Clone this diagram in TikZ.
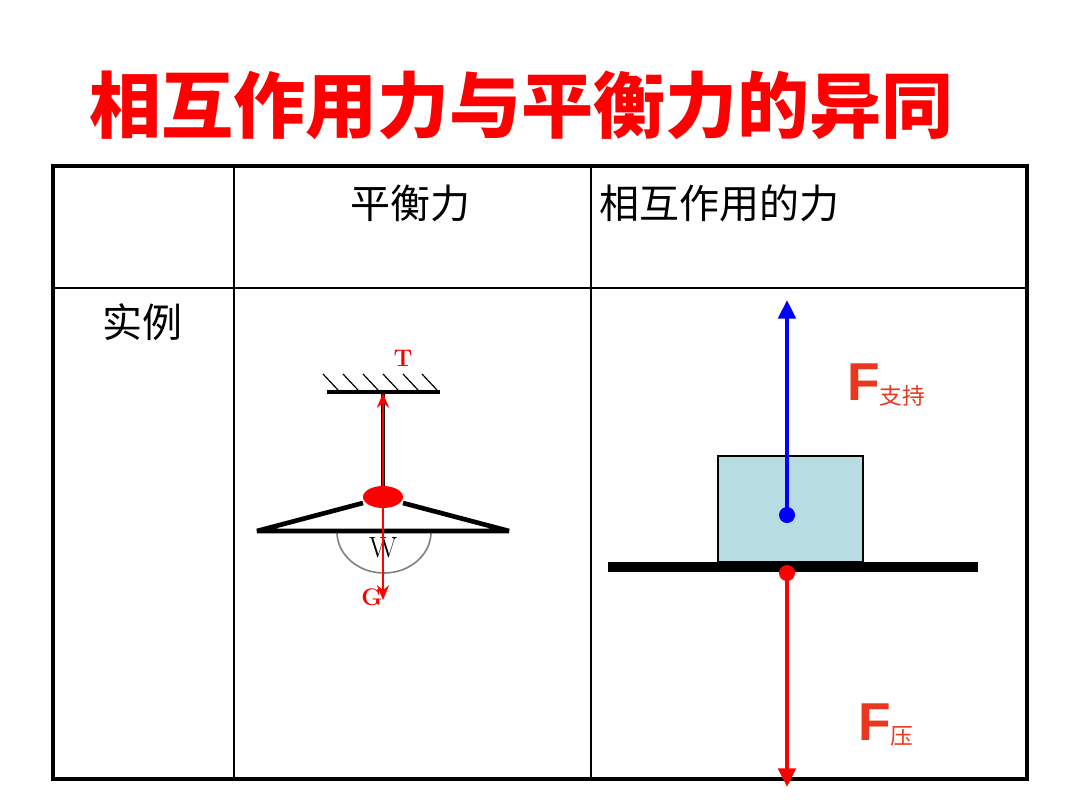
\documentclass[tikz,border=0pt]{standalone}
\usepackage{fontspec}
\newfontfamily\cjk{Noto Sans CJK SC}
\newfontfamily\sans{Liberation Sans}
\usetikzlibrary{arrows.meta,shapes.geometric}
\definecolor{fred}{HTML}{E8391E}
\tikzset{
  thin line/.style={line width=0.8pt},
  redarrow/.style={red, line width=3pt, -{Triangle[length=14pt,width=13pt]}},
  lamparrow/.style={red, line width=2.2pt, -{Stealth[length=11pt,width=9pt]}},
  hdr/.style={font=\cjk\fontsize{30}{33}\selectfont},
}
\begin{document}
\begin{tikzpicture}[x=0.75pt,y=-0.75pt]
\useasboundingbox (0,0) rectangle (1080,810);
\fill[white] (0,0) rectangle (1080,810);
% title
\node[red,font=\cjk\bfseries\fontsize{54}{58}\selectfont] (title) at (521,105) {相互作用力与平衡力的异同};
% table
\draw[thin line] (234,166) -- (234,779) (591,166) -- (591,779) (53,288) -- (1027,288);
\draw[line width=2.5pt] (53,166) rectangle (1027,779);
\node[hdr] (h1) at (410,203) {平衡力};
\node[hdr,anchor=west] (h2) at (595,203) {相互作用的力};
\node[hdr] (r1) at (142,322) {实例};
% lamp
\draw[line width=3pt] (327,392) -- (440,392);
\foreach \x in {323,343,363,383,403,422} \draw[line width=0.9pt] (\x,374) -- (\x+15,390);
\draw[line width=2.5pt] (383,392) -- (383,497);
\draw[gray,line width=1.2pt] (337,532) arc[start angle=180,end angle=0,x radius=47,y radius=41];
\node[font=\fontsize{22}{24}\selectfont] (w) at (383,548) {W};
\draw[line width=3.5pt,line join=bevel] (363,503) -- (257,531) -- (509,531) -- (403,503);
\coordinate (top) at (383,393);
\coordinate (bot) at (383,600);
\node[fill=red,ellipse,inner sep=0pt,minimum width=30pt,minimum height=16.5pt] (c) at (383,497) {};
\draw[lamparrow] (c.center) -- (top);
\draw[lamparrow] (c.center) -- (bot);
\node[red,font=\bfseries\fontsize{18}{20}\selectfont] (T) at (403,358) {T};
\node[red,font=\bfseries\fontsize{18}{20}\selectfont] (G) at (372,597) {G};
% block
\draw[fill={rgb,255:red,183;green,221;blue,227},line width=0.8pt] (718,456) rectangle (863,562);
\fill (608,562) rectangle (978,572);
\fill[blue] (787,515) circle (8);
\coordinate (up) at (787,300);
\draw[blue,line width=3pt,-{Triangle[length=14pt,width=13pt]}] (787,515) -- (up);
\fill[red] (787,573) circle (8);
\coordinate (dn) at (787,787);
\draw[redarrow] (787,573) -- (dn);
\node[fred,anchor=base west,inner sep=0pt,font=\sans\bfseries\fontsize{40}{42}\selectfont] (F1) at (847,400) {F\raisebox{-3pt}{\cjk\mdseries\fontsize{17}{19}\selectfont 支持}};
\node[fred,anchor=base west,inner sep=0pt,font=\sans\bfseries\fontsize{40}{42}\selectfont] (F2) at (858,740) {F\raisebox{-3pt}{\cjk\mdseries\fontsize{17}{19}\selectfont 压}};
\end{tikzpicture}
\end{document}
